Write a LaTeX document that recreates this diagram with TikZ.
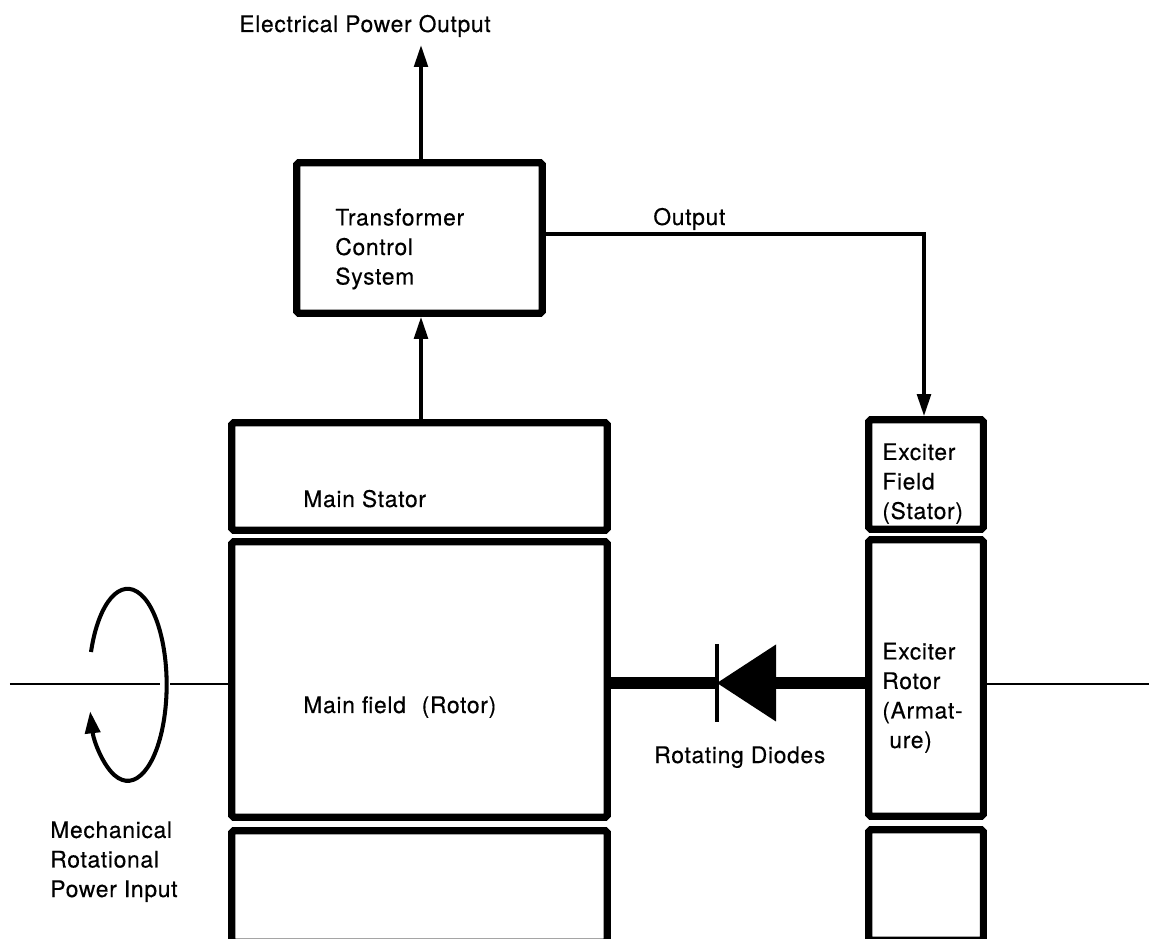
\documentclass[tikz,border=0pt]{standalone}
\usepackage{fontspec}
\setmainfont[LetterSpace=3,FakeBold=0.35]{TeX Gyre Heros}
\usetikzlibrary{calc,arrows.meta,positioning}

\begin{document}
\begin{tikzpicture}[
		blockbox/.style={draw, line width=4pt, rounded corners=1pt, inner sep=0pt},
		sigline/.style={line width=2.1pt, -{Triangle[length=0.44cm, width=0.27cm]}},
		shaftline/.style={line width=1.5pt},
		powerline/.style={line width=7pt},
		labeltext/.style={anchor=base west, align=left, inner sep=0pt, font=\fontsize{13}{16.8}\selectfont}
	]
		\useasboundingbox (0,0) rectangle (22.98,18.76);

		% Machine blocks
		\node[blockbox, minimum width=4.91cm, minimum height=3.01cm] (xfmr) at (8.39,14.00) {};
		\node[blockbox, minimum width=7.51cm, minimum height=2.15cm] (stator) at (8.39,9.23) {};
		\node[blockbox, minimum width=7.51cm, minimum height=5.51cm] (rotor) at (8.39,5.17) {};
		\node[blockbox, minimum width=7.51cm, minimum height=2.23cm] (rotorbase) at (8.39,1.03) {};
		\node[blockbox, minimum width=2.29cm, minimum height=2.19cm] (exfield) at (18.52,9.27) {};
		\node[blockbox, minimum width=2.29cm, minimum height=5.53cm] (exrotor) at (18.52,5.20) {};
		\node[blockbox, minimum width=2.29cm, minimum height=2.21cm] (exbase) at (18.52,1.06) {};

		% Free ends
		\coordinate (outtip) at (8.42,17.86);
		\coordinate (bend) at (18.48,14.08);
		\coordinate (shaftleft) at (0.20,5.08);
		\coordinate (gapleft) at (3.20,5.08);
		\coordinate (gapright) at (3.40,5.08);
		\coordinate (shaftright) at (22.98,5.08);
		\coordinate (diodetip) at (14.34,5.10);
		\coordinate (diodebase) at (15.52,5.10);

		% Signal arrows
		\draw[sigline] (xfmr.north -| outtip) -- (outtip);
		\draw[sigline] (stator.north -| outtip) -- (xfmr.south -| outtip);
		\draw[sigline] (xfmr.east |- bend) -- (bend) -- (bend |- exfield.north);

		% Shaft
		\draw[shaftline] (shaftleft) -- (gapleft);
		\draw[shaftline] (gapright) -- (rotor.west |- gapright);
		\draw[shaftline] (exrotor.east |- shaftright) -- (shaftright);

		% Rotation arrow
		\draw[line width=2.3pt, -{Triangle[length=0.44cm, width=0.30cm]}] (1.82,5.72) arc[start angle=160, end angle=-164, x radius=0.78, y radius=1.92];

		% Rotating diode
		\draw[powerline] (rotor.east |- diodetip) -- (diodetip);
		\draw[powerline] (diodebase) -- (exrotor.west |- diodebase);
		\fill (diodetip) -- ($(diodebase)+(0,0.77)$) -- ($(diodebase)+(0,-0.77)$) -- cycle;
		\draw[line width=2.8pt] ($(diodetip)+(0,0.78)$) -- ($(diodetip)+(0,-0.78)$);

		% Labels
		\node[labeltext] (outlabel) at (4.78,18.12) {Electrical Power Output};
		\node[labeltext] (xfmrlabel) at (6.70,13.07) {Transformer\\Control\\System};
		\node[labeltext] (outputlabel) at (13.06,14.26) {Output};
		\node[labeltext] (statorlabel) at (6.06,8.62) {Main Stator};
		\node[labeltext] (rotorlabel) at (6.06,4.50) {Main field\hspace{5pt} (Rotor)};
		\node[labeltext] (exfieldlabel) at (17.64,8.38) {Exciter\\Field\\(Stator)};
		\node[labeltext] (exrotorlabel) at (17.64,3.80) {Exciter\\Rotor\\(Armat-\\\hspace*{4pt}ure)};
		\node[labeltext] (diodelabel) at (13.08,3.50) {Rotating Diodes};
		\node[labeltext] (inputlabel) at (1.00,0.82) {Mechanical\\Rotational\\Power Input};
	\end{tikzpicture}
\end{document}
